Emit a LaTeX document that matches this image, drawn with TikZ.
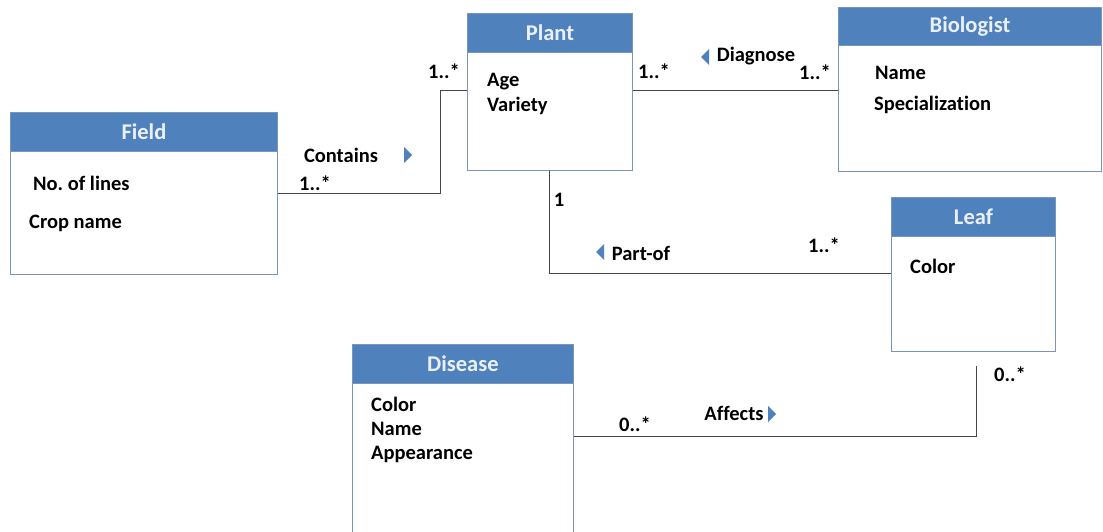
\documentclass[tikz,border=0pt]{standalone}
\usepackage{fontspec}
\setmainfont[Ligatures={NoCommon}]{Carlito}
\frenchspacing
\begin{document}
\begin{tikzpicture}[x=1pt,y=-1pt,
  every node/.style={font=\bfseries\fontsize{20.5}{24}\selectfont, inner sep=0pt},
  body/.style={draw=boxline, line width=0.9pt, fill=white, rectangle, anchor=north west},
  head/.style={draw=boxline, line width=0.9pt, fill=headblue, rectangle, anchor=north west, minimum height=39pt},
  htext/.style={text=headtext, font=\bfseries\fontsize{22.5}{26}\selectfont},
  attr/.style={anchor=west, text=black},
  lbl/.style={text=black},
  conn/.style={draw=linegray, line width=1pt},
  tri/.style={fill=headblue, draw=none}
]
\definecolor{headblue}{RGB}{79,129,189}
\definecolor{headtext}{RGB}{235,240,248}
\definecolor{boxline}{RGB}{120,150,185}
\definecolor{linegray}{RGB}{70,70,70}
\useasboundingbox (0,0) rectangle (1103,532);
\fill[white] (0,0) rectangle (1103,532);

% Field
\node[body, minimum width=267pt, minimum height=162pt] (field) at (10,112) {};
\node[head, minimum width=267pt] (fieldH) at (10,112) {};
\node[htext] (fieldT) at (fieldH.center) {Field};
\node[attr] (fieldA1) at (33,183) {No. of lines};
\node[attr] (fieldA2) at (29,223) {Crop name};

% Plant
\node[body, minimum width=165pt, minimum height=157pt] (plant) at (467,13) {};
\node[head, minimum width=165pt] (plantH) at (467,13) {};
\node[htext] (plantT) at (plantH.center) {Plant};
\node[attr] (plantA1) at (487,82) {Age};
\node[attr] (plantA2) at (487,106) {Variety};

% Biologist
\node[body, minimum width=263pt, minimum height=164pt] (bio) at (838,7) {};
\node[head, minimum width=263pt, minimum height=38pt] (bioH) at (838,7) {};
\node[htext] (bioT) at (bioH.center) {Biologist};
\node[attr] (bioA1) at (875,73) {Name};
\node[attr] (bioA2) at (874,105) {Specializat\kern0pt ion};

% Leaf
\node[body, minimum width=164pt, minimum height=154pt] (leaf) at (891,197) {};
\node[head, minimum width=164pt] (leafH) at (891,197) {};
\node[htext] (leafT) at (leafH.center) {Leaf};
\node[attr] (leafA1) at (910,266) {Color};

% Disease
\node[body, minimum width=221pt, minimum height=200pt] (dis) at (352,344) {};
\node[head, minimum width=221pt] (disH) at (352,344) {};
\node[htext] (disT) at (disH.center) {Disease};
\node[attr] (disA1) at (371,404) {Color};
\node[attr] (disA2) at (371,429) {Name};
\node[attr] (disA3) at (371,454) {Appearance};

% Connectors
\coordinate (fpA) at (440,193);
\coordinate (fpB) at (440,91);
\draw[conn] (field.east |- fpA) -- (fpA) -- (fpB) -- (plant.west |- fpB);
\draw[conn] (plant.east |- fpB) -- (bio.west |- fpB);
\coordinate (poA) at (549,273);
\draw[conn] (plant.south -| poA) -- (poA) -- (leaf.west |- poA);
\coordinate (afA) at (976,436);
\coordinate (afB) at (976,366);
\draw[conn] (dis.east |- afA) -- (afA) -- (afB);

% Labels
\node[lbl] (lContains) at (341,155) {Contains};
\fill[tri] (404,147) -- (412,155) -- (404,163) -- cycle;
\node[lbl] (m1) at (315,183) {1..*};
\node[lbl] (m2) at (444,71) {1..*};
\node[lbl] (m3) at (654,71) {1..*};
\fill[tri] (709,49) -- (701,57) -- (709,65) -- cycle;
\node[lbl] (lDiag) at (756,56) {Diagnose};
\node[lbl] (m4) at (815,72) {1..*};
\node[lbl] (m5) at (559,200) {1};
\fill[tri] (604,244) -- (596,252) -- (604,260) -- cycle;
\node[lbl] (lPart) at (641,253) {Part-of};
\node[lbl] (m6) at (824,245) {1..*};
\node[lbl] (m7) at (1010,374) {0..*};
\node[lbl] (m8) at (635,424) {0..*};
\node[lbl] (lAff) at (734,413) {Affects};
\fill[tri] (768,406) -- (776,414) -- (768,422) -- cycle;
\end{tikzpicture}
\end{document}
